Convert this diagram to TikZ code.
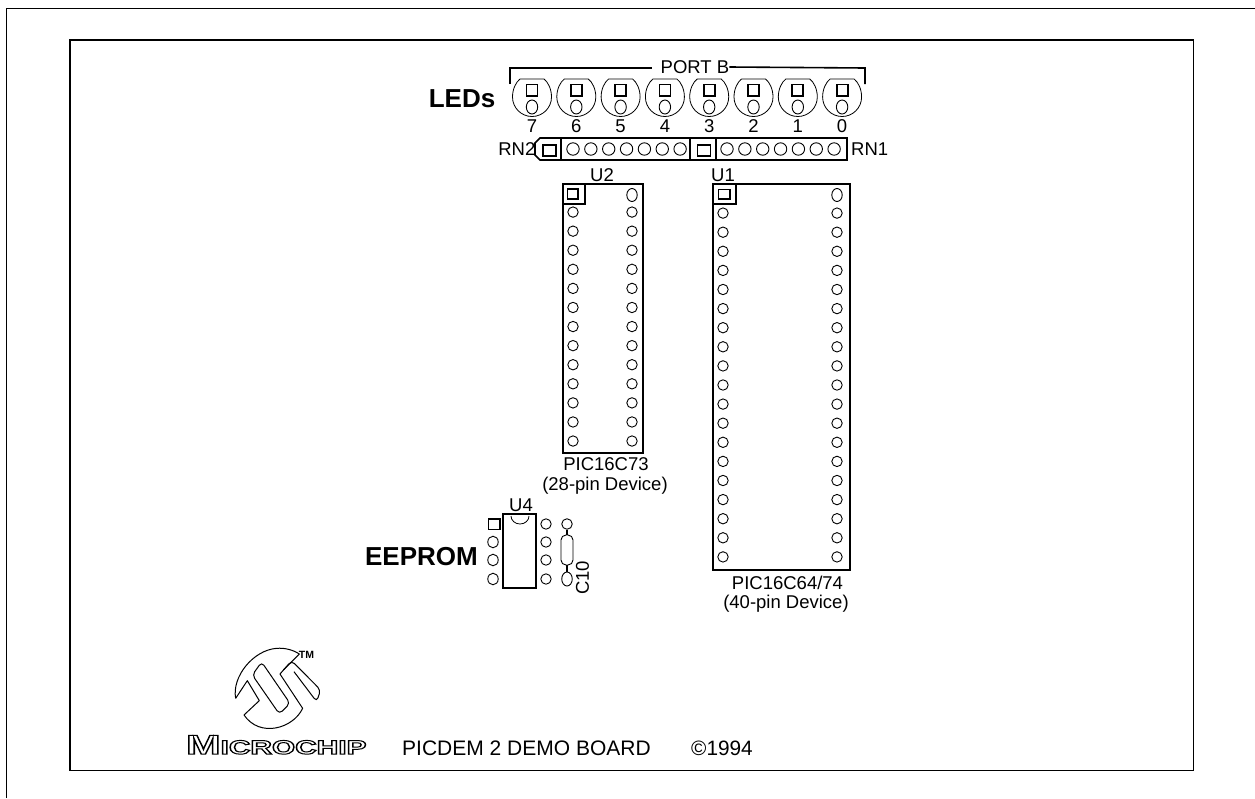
\documentclass[tikz,border=0pt]{standalone}
\usepackage{fontspec}
\usetikzlibrary{shapes.geometric}
\setmainfont{Liberation Sans}
\newcommand{\fs}[1]{\fontsize{#1}{#1}\selectfont}
\newcommand{\outl}[1]{\special{pdf:code q 1 Tr 1 w}#1\special{pdf:code Q}}
\tikzset{
 lab/.style={inner sep=0pt,font=\fs{18.5}},
 biglab/.style={inner sep=0pt,font=\bfseries\fs{26}},
 frameln/.style={line width=1.6pt,black},
 part/.style={line width=1.6pt,black},
 thick sq/.style={line width=1.8pt,black},
 pin/.style={line width=0.9pt,black},
 thinln/.style={line width=0.8pt,black}
}
\begin{document}
\begin{tikzpicture}[x=1pt,y=-1pt]
\useasboundingbox (0,0) rectangle (1255,798);
\fill[white] (0,0) rectangle (1255,798);
% frames
\draw[line width=0.9pt] (6.5,798) -- (6.5,8) -- (1255,8);
\draw[frameln] (70,40) rectangle (1193.5,770.5);
% LEDs
\node[biglab,anchor=east] (ledlab) at (495.5,99) {LEDs};
\foreach \i/\n in {0/7,1/6,2/5,3/4,4/3,5/2,6/1,7/0}{
 \pgfmathsetmacro{\cx}{532+44.3*\i}
 \draw[thinln] (\cx-12,79) -- (\cx+12,79) .. controls (\cx+16,82) and (\cx+19.5,89) .. (\cx+19.5,97)
   arc[start angle=0,end angle=180,x radius=19.5,y radius=19.5] .. controls (\cx-19.5,89) and (\cx-16,82) .. (\cx-12,79);
 \draw[thick sq] (\cx-5.5,84.5) rectangle (\cx+5.5,96);
 \draw[pin] (\cx,107) ellipse[x radius=5.7,y radius=7];
 \node[lab] (led\n) at (\cx,126.5) {\n};
}
% Port B bracket
\node[lab] (portb) at (695,67) {PORT B};
\coordinate (bl) at (510,84); \coordinate (br) at (865,84);
\draw[part] (bl) -- (510,68) -- (652,68);
\draw[part] (portb.east) -- (865,68) -- (br);
% resistor networks
\draw[part] (540,138) -- (847,138) -- (847,160) -- (540,160) -- (535,155) -- (535,143) -- cycle;
\draw[part] (561,138) -- (561,160);
\draw[part] (690,138) -- (690,160);
\draw[part] (716,138) -- (716,160);
\draw[thick sq] (543,145) rectangle (556,156);
\draw[thick sq] (697.5,145) rectangle (710.5,156);
\foreach \i in {0,...,6}{
 \draw[pin] ({573+17.85*\i},149) circle[radius=6.2];
 \draw[pin] ({727+17.85*\i},149) circle[radius=6.2];
}
\node[lab,anchor=east] (rn2) at (535.5,149) {RN2};
\node[lab,anchor=west] (rn1) at (851,149) {RN1};
% U2
\draw[part] (563,184) rectangle (643,453);
\draw[part] (563,184) rectangle (585,204);
\draw[thick sq] (567.5,189) rectangle (578,199);
\draw[pin] (632,195) ellipse[x radius=5.2,y radius=6.5];
\foreach \i in {1,...,13}{ \draw[pin] (573,{193+19.08*\i}) circle[radius=5.2]; }
\foreach \i in {1,...,13}{ \draw[pin] (632,{193+19.08*\i}) circle[radius=5.2]; }
\node[lab] (u2) at (602,175) {U2};
\node[lab] (u2a) at (606,464) {PIC16C73};
\node[lab] (u2b) at (605,486) {(28-pin Device)};
% U1
\draw[part] (713,184) rectangle (850,570);
\draw[part] (713,184) rectangle (736,204);
\draw[thick sq] (718.5,189.5) rectangle (730,199);
\draw[pin] (837,195) ellipse[x radius=5.2,y radius=6.5];
\foreach \i in {1,...,19}{ \draw[pin] (723,{194+19.1*\i}) circle[radius=5.2]; }
\foreach \i in {1,...,19}{ \draw[pin] (837,{194+19.1*\i}) circle[radius=5.2]; }
\node[lab] (u1) at (723,175) {U1};
\node[lab] (u1a) at (787.5,583) {PIC16C64/74};
\node[lab] (u1b) at (786,603.5) {(40-pin Device)};
% U4
\draw[part] (503,514) rectangle (536,588);
\draw[thinln] (511,516) arc[start angle=180,end angle=360,x radius=9,y radius=-8];
\draw[thick sq] (488.5,519) rectangle (500,529.5);
\foreach \y in {542,560,579}{ \draw[pin] (493,\y) ellipse[x radius=5.2,y radius=5.8]; }
\foreach \y in {524,542,560,579}{ \draw[pin] (546,\y) circle[radius=5.2]; }
\node[lab] (u4) at (521,505) {U4};
\node[biglab,anchor=east] (eeprom) at (478,556.5) {EEPROM};
% C10
\node[circle,draw,line width=0.9pt,inner sep=0pt,minimum size=10.5pt] (c1) at (567,524) {};
\node[ellipse,draw,line width=0.9pt,inner sep=0pt,minimum width=10.5pt,minimum height=14pt] (c2) at (567,579) {};
\node[draw,line width=0.9pt,rounded corners=5pt,inner sep=0pt,minimum width=12pt,minimum height=30pt] (c3) at (567,550) {};
\draw[part] (c1) -- (c3);
\draw[part] (c3) -- (c2);
\node[lab,rotate=90] (c10) at (582.5,578) {C10};
% title
\node[lab,anchor=west,font=\fs{21}] (title) at (402,748.5) {PICDEM 2 DEMO BOARD};
\node[lab,anchor=west,font=\fs{20.8}] (copy) at (691,748.5) {©1994};
% logo
\begin{scope}[xshift=170pt,yshift=-640pt,x=0.3333pt,y=-0.3333pt,line width=1pt,line join=round]
 \draw (197,175) .. controls (185,110) and (250,30) .. (320,25) .. controls (345,23) and (370,30) .. (388,42)
   -- (340,90);
 \draw (330,102) -- (398,205) .. controls (370,265) and (270,295) .. (222,225) -- (268,182) -- (232,122) -- (197,175);
 \draw[rounded corners=4pt] (247,105) -- (275,66) -- (360,190) -- (328,222) -- cycle;
 \draw[rounded corners=4pt] (330,102) -- (365,62) -- (452,150) -- (440,185) -- (372,95);
\end{scope}
\node[inner sep=0pt,font=\bfseries\fs{10.5}] (tm) at (306.5,655) {TM};
\node[inner sep=0pt,anchor=base west,font=\bfseries\fs{27}] (micro) at (186,754) {\outl{\scalebox{1.53}[1]{M\fs{19.5}ICROCHIP}}};
\end{tikzpicture}
\end{document}
